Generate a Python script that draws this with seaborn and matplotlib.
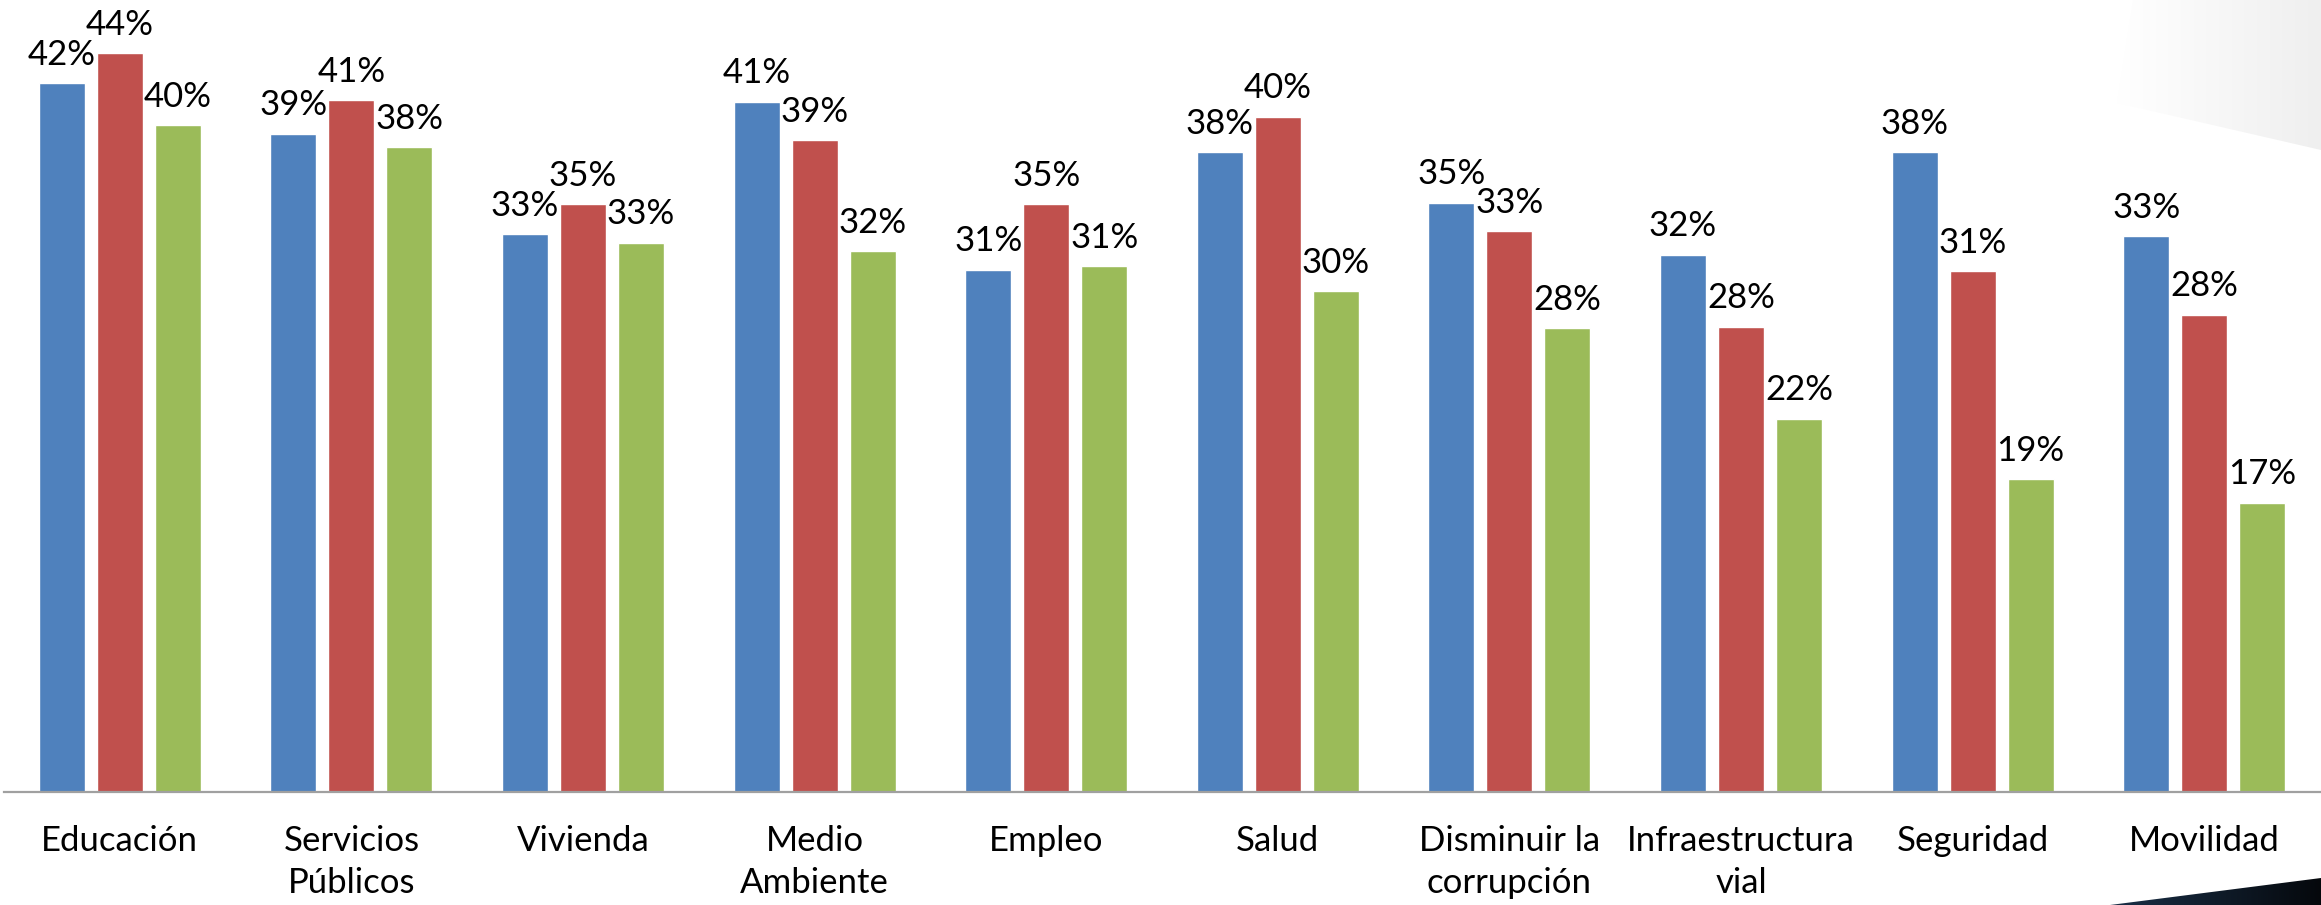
import numpy as np
import pandas as pd
import matplotlib.pyplot as plt
from matplotlib.patches import Polygon
from matplotlib.colors import LinearSegmentedColormap
import seaborn as sns

categorias = ["Educación", "Servicios\nPúblicos", "Vivienda", "Medio\nAmbiente", "Empleo",
              "Salud", "Disminuir la\ncorrupción", "Infraestructura\nvial", "Seguridad", "Movilidad"]
serie_1 = [42.2, 39.2, 33.2, 41.1, 31.1, 38.1, 35.1, 32.0, 38.1, 33.1]
serie_2 = [44.0, 41.2, 35.0, 38.8, 35.0, 40.2, 33.4, 27.7, 31.0, 28.4]
serie_3 = [39.7, 38.4, 32.7, 32.2, 31.3, 29.8, 27.6, 22.2, 18.6, 17.2]
series = ["Serie 1", "Serie 2", "Serie 3"]
colores = ["#4F81BD", "#C0504D", "#9BBB59"]

df = pd.DataFrame({
    "categoria": categorias * 3,
    "serie": np.repeat(series, len(categorias)),
    "valor": serie_1 + serie_2 + serie_3,
})

sns.set_theme(style="white")
plt.rcParams['font.family'] = ['Lato', 'DejaVu Sans']

W, H = 2321, 905
fig = plt.figure(figsize=(W / 100, H / 100), dpi=100)

# decorative background shapes (corners)
bg = fig.add_axes([0, 0, 1, 1], zorder=0)
bg.set_xlim(0, W)
bg.set_ylim(H, 0)
bg.axis("off")

def gradient_shape(pts, c0, c1):
    xs = [p[0] for p in pts]
    ys = [p[1] for p in pts]
    cmap = LinearSegmentedColormap.from_list("g", [c0, c1])
    grad = np.linspace(0, 1, 256).reshape(1, -1)
    im = bg.imshow(grad, extent=[min(xs), max(xs), max(ys), min(ys)], cmap=cmap, aspect="auto")
    poly = Polygon(pts, closed=True, facecolor="none", edgecolor="none", transform=bg.transData)
    bg.add_patch(poly)
    im.set_clip_path(poly)

gradient_shape([(2133, 0), (2117, 103), (2321, 150), (2321, 0)], "#ffffff", "#efefef")
gradient_shape([(2110, 905), (2321, 878), (2321, 905)], "#1a3048", "#05080c")
bg.set_xlim(0, W)
bg.set_ylim(H, 0)

ax = fig.add_axes([4 / W, 1 - 791.5 / H, 2316 / W, (791.5 - 19.6) / H], zorder=1)
ax.set_facecolor("none")

sns.barplot(data=df, x="categoria", y="valor", hue="serie", palette=colores,
            width=0.751, gap=0.207, saturation=1, errorbar=None, legend=False, ax=ax)

for c in ax.containers:
    ax.bar_label(c, fmt="{:.0f}%", padding=9, fontsize=25, color="black")

ax.set_xlim(-0.5, len(categorias) - 0.5)
ax.set_ylim(0, 46)
ax.set_xlabel("")
ax.set_ylabel("")
ax.set_yticks([])
ax.tick_params(axis="x", length=0, pad=24, labelsize=25, colors="black")
for lbl in ax.get_xticklabels():
    lbl.set_linespacing(1.4)

for s in ["left", "top", "right"]:
    ax.spines[s].set_visible(False)
ax.spines["bottom"].set_color("#A0A0A0")
ax.spines["bottom"].set_linewidth(1.6)

fig.savefig("out.png", dpi=100)
